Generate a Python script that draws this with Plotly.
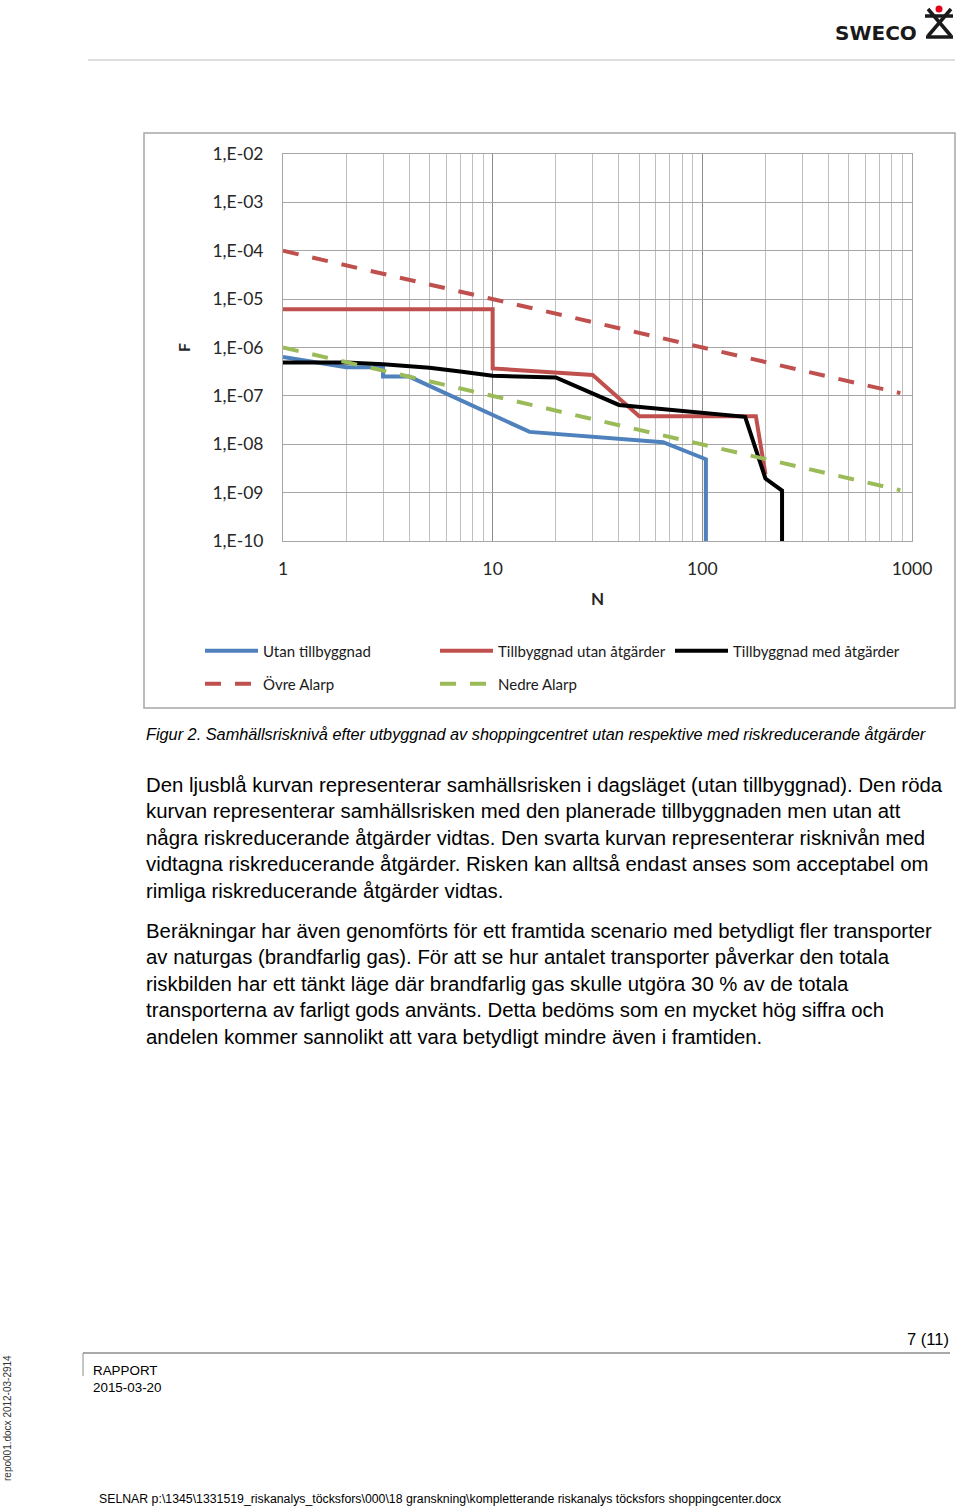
import plotly.graph_objects as go

W, H = 960, 1509
PL, PR, PT, PB = 283, 912, 154, 541


def fx(p):
    return (p - PL) / (PR - PL)


def fy(p):
    return (PB - p) / (PB - PT)


# ---------------- data ----------------
utan_N = [1, 2, 3, 3, 4, 15, 65, 104, 104]
utan_F = [6.4e-7, 3.9e-7, 3.9e-7, 2.5e-7, 2.5e-7, 1.8e-8, 1.1e-8, 4.9e-9, 1e-10]

tillb_utan_N = [1, 10, 10, 30, 50, 180, 200]
tillb_utan_F = [6.2e-6, 6.2e-6, 3.7e-7, 2.7e-7, 3.8e-8, 3.8e-8, 2.4e-9]

tillb_med_N = [1, 2, 3, 5, 7, 10, 20, 40, 160, 200, 240, 240]
tillb_med_F = [4.9e-7, 4.9e-7, 4.5e-7, 3.8e-7, 3.2e-7, 2.6e-7, 2.4e-7, 6.5e-8, 3.7e-8, 1.96e-9, 1.1e-9, 1e-10]

ovre_N = [1, 10, 100, 880]
ovre_F = [1e-4, 1e-5, 1e-6, 1.14e-7]

nedre_N = [1, 10, 100, 880]
nedre_F = [1e-6, 1e-7, 1e-8, 1.12e-9]

x_tickvals = [1, 10, 100, 1000]
x_ticktext = ["1", "10", "100", "1000"]
y_tickvals = [1e-10, 1e-9, 1e-8, 1e-7, 1e-6, 1e-5, 1e-4, 1e-3, 1e-2]
y_ticktext = ["1,E-10", "1,E-09", "1,E-08", "1,E-07", "1,E-06", "1,E-05", "1,E-04", "1,E-03", "1,E-02"]
x_minor = [m * d for d in (1, 10, 100) for m in range(2, 10)]

body_lines = [
    "Den ljusblå kurvan representerar samhällsrisken i dagsläget (utan tillbyggnad). Den röda",
    "kurvan representerar samhällsrisken med den planerade tillbyggnaden men utan att",
    "några riskreducerande åtgärder vidtas. Den svarta kurvan representerar risknivån med",
    "vidtagna riskreducerande åtgärder. Risken kan alltså endast anses som acceptabel om",
    "rimliga riskreducerande åtgärder vidtas.",
    "Beräkningar har även genomförts för ett framtida scenario med betydligt fler transporter",
    "av naturgas (brandfarlig gas). För att se hur antalet transporter påverkar den totala",
    "riskbilden har ett tänkt läge där brandfarlig gas skulle utgöra 30 % av de totala",
    "transporterna av farligt gods använts. Detta bedöms som en mycket hög siffra och",
    "andelen kommer sannolikt att vara betydligt mindre även i framtiden.",
]
body_y = [785, 811, 838, 864, 891, 931, 957, 984, 1010, 1037]

BLUE = "#4F81BD"
RED = "#C0504D"
GREEN = "#9BBB59"

fig = go.Figure()
fig.add_trace(go.Scatter(x=utan_N, y=utan_F, mode="lines", name="Utan tillbyggnad",
                         line=dict(color=BLUE, width=4), legend="legend"))
fig.add_trace(go.Scatter(x=tillb_utan_N, y=tillb_utan_F, mode="lines", name="Tillbyggnad utan åtgärder",
                         line=dict(color=RED, width=4), legend="legend"))
fig.add_trace(go.Scatter(x=tillb_med_N, y=tillb_med_F, mode="lines", name="Tillbyggnad med åtgärder",
                         line=dict(color="#000000", width=4), legend="legend"))
fig.add_trace(go.Scatter(x=ovre_N, y=ovre_F, mode="lines", name="Övre Alarp",
                         line=dict(color=RED, width=4, dash="16px,14px"), legend="legend2"))
fig.add_trace(go.Scatter(x=nedre_N, y=nedre_F, mode="lines", name="Nedre Alarp",
                         line=dict(color=GREEN, width=4, dash="16px,14px"), legend="legend2"))

TICKFONT = dict(family="Lato, Carlito, sans-serif", size=17.5, color="#262626")
LEGFONT = dict(family="Lato, Carlito, sans-serif", size=15, color="#1A1A1A")

fig.update_layout(
    width=W, height=H,
    margin=dict(l=PL, r=W - PR, t=PT, b=H - PB),
    paper_bgcolor="white", plot_bgcolor="white",
    showlegend=True,
    xaxis=dict(type="log", range=[0, 3], tickmode="array", tickvals=x_tickvals, ticktext=x_ticktext,
               showgrid=True, gridcolor="#8C8C8C", gridwidth=1, zeroline=False,
               showline=True, linecolor="#A6A6A6", linewidth=1, mirror=True,
               ticks="", tickfont=TICKFONT, ticklabelstandoff=12,
               minor=dict(tickmode="array", tickvals=x_minor, showgrid=True, gridcolor="#BFBFBF",
                          gridwidth=1, ticks="")),
    yaxis=dict(type="log", range=[-10, -2], tickmode="array", tickvals=y_tickvals, ticktext=y_ticktext,
               showgrid=True, gridcolor="#A6A6A6", gridwidth=1, zeroline=False,
               showline=True, linecolor="#A6A6A6", linewidth=1, mirror=True,
               ticks="", tickfont=TICKFONT, ticklabelstandoff=15),
    legend=dict(orientation="h", xref="paper", yref="paper", x=fx(200), xanchor="left",
                y=fy(651), yanchor="middle", font=LEGFONT, itemwidth=53,
                entrywidth=167, entrywidthmode="pixels", bgcolor="rgba(0,0,0,0)", borderwidth=0,
                traceorder="normal"),
    legend2=dict(orientation="h", xref="paper", yref="paper", x=fx(200), xanchor="left",
                 y=fy(684), yanchor="middle", font=LEGFONT, itemwidth=53,
                 entrywidth=167, entrywidthmode="pixels", bgcolor="rgba(0,0,0,0)", borderwidth=0,
                 traceorder="normal"),
)

shapes = []
# chart border
shapes.append(dict(type="rect", xref="paper", yref="paper", x0=fx(144), x1=fx(955), y0=fy(133), y1=fy(708),
                   line=dict(color="#A6A6A6", width=1.5), layer="below"))
# header line
shapes.append(dict(type="line", xref="paper", yref="paper", x0=fx(88), x1=fx(955), y0=fy(60), y1=fy(60),
                   line=dict(color="#BDBDBD", width=1)))
# footer lines
shapes.append(dict(type="line", xref="paper", yref="paper", x0=fx(83), x1=fx(950), y0=fy(1353), y1=fy(1353),
                   line=dict(color="#8C8C8C", width=1.5)))
shapes.append(dict(type="line", xref="paper", yref="paper", x0=fx(83), x1=fx(83), y0=fy(1353), y1=fy(1376),
                   line=dict(color="#8C8C8C", width=1)))
# logo icon
for (a, b, c, d) in [(925, 16, 953, 16), (928, 9, 951, 36), (951, 9, 928, 36), (926, 37, 953, 37)]:
    shapes.append(dict(type="line", xref="paper", yref="paper", x0=fx(a), y0=fy(b), x1=fx(c), y1=fy(d),
                       line=dict(color="#1A1A1A", width=3.5)))
shapes.append(dict(type="circle", xref="paper", yref="paper", x0=fx(935.5), x1=fx(942.5), y0=fy(5.5), y1=fy(12.5),
                   fillcolor="#E2001A", line=dict(color="#E2001A", width=0)))
fig.update_layout(shapes=shapes)


def note(text, px, py, size, family, xanchor="left", color="#000000", angle=0):
    return dict(text=text, x=fx(px), y=fy(py), xref="paper", yref="paper", showarrow=False,
                xanchor=xanchor, yanchor="middle", textangle=angle,
                font=dict(family=family, size=size, color=color))


SANS = "Liberation Sans, Arial, sans-serif"
ann = []
ann.append(note("<b>F</b>", 183, 348, 16, "Lato, sans-serif", xanchor="center", color="#262626", angle=-90))
ann.append(note("<b>N</b>", 597, 598, 17, "Lato, sans-serif", xanchor="center", color="#262626"))
ann.append(note("<i>Figur 2. Samhällsrisknivå efter utbyggnad av shoppingcentret utan respektive med riskreducerande åtgärder</i>",
                144, 734, 16.3, SANS))
for t, yy in zip(body_lines, body_y):
    ann.append(note(t, 144, yy, 20.35, SANS))
ann.append(note("<b>SWECO</b>", 876, 33, 20, "DejaVu Sans, sans-serif", xanchor="center", color="#1A1A1A"))
ann.append(note("7 (11)", 951, 1339, 16.5, SANS, xanchor="right"))
ann.append(note("RAPPORT", 91, 1370, 13.4, SANS))
ann.append(note("2015-03-20", 91, 1387, 13.4, SANS))
ann.append(note("SELNAR p:\\1345\\1331519_riskanalys_töcksfors\\000\\18 granskning\\kompletterande riskanalys töcksfors shoppingcenter.docx",
                97, 1499, 12.3, SANS))
ann.append(note("repo001.docx 2012-03-2914", 7, 1418, 10, SANS, xanchor="center", color="#333333", angle=-90))
fig.update_layout(annotations=ann)

fig.write_html("out.html")
